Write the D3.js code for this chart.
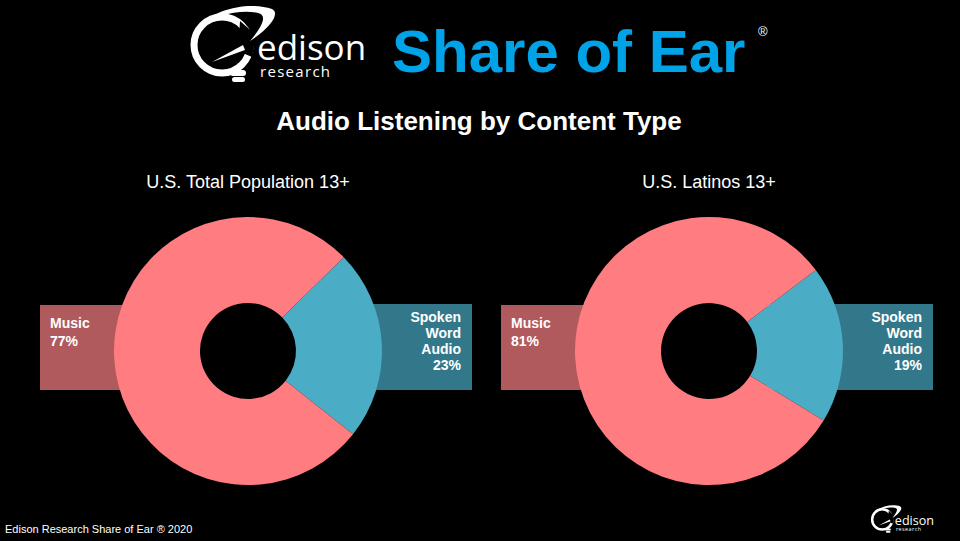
<!DOCTYPE html>
<html>
<head>
<meta charset="utf-8">
<script src="https://cdn.jsdelivr.net/npm/d3@7"></script>
<style>
  html, body { margin: 0; padding: 0; background: #000; }
  svg { display: block; }
</style>
</head>
<body>
<div id="wrapper"></div>
<script>
// 1. Data
const panels = ["U.S. Total Population 13+", "U.S. Latinos 13+"]
const categories = ["Spoken Word Audio", "Music"]
const spokenShare = [23, 19]
const musicShare = [77, 81]

const pieColors = { "Music": "#ff7c80", "Spoken Word Audio": "#4bacc6" }
const boxColors = { "Music": "#b05a5d", "Spoken Word Audio": "#33788a" }

// 2. Dimensions
const width = 960
const height = 541
const innerRadius = 48
const outerRadius = 134
const centerY = 351

// 3. Canvas
const svg = d3.select("#wrapper")
  .append("svg")
  .attr("width", width)
  .attr("height", height)
  .style("background-color", "#000")

const font = "'Liberation Sans', Arial, sans-serif"

// header logo
function drawLogo(g) {
  g.append("circle")
    .attr("cx", 34).attr("cy", 40).attr("r", 28)
    .attr("fill", "none").attr("stroke", "#fff").attr("stroke-width", 7)
  // gap on the right where the orbit passes
  g.append("path")
    .attr("d", "M52,16 L68,30 L64,52 L50,46 Z")
    .attr("fill", "#000")
  // orbit swoosh
  g.append("path")
    .attr("d", "M12,22 C24,4 62,-4 84,4 C92,8 84,22 62,36 C74,22 80,10 70,8 C52,4 28,10 12,22 Z")
    .attr("fill", "#fff")
  // e stroke
  g.append("path")
    .attr("d", "M24,57 L55,40 L57,45 Z")
    .attr("fill", "#fff")
  // bulb base
  g.append("rect").attr("x", 42).attr("y", 65).attr("width", 16).attr("height", 6)
    .attr("rx", 3).attr("fill", "#fff")
  g.append("rect").attr("x", 44).attr("y", 72).attr("width", 13).attr("height", 5)
    .attr("rx", 2.5).attr("fill", "#fff")
  g.append("text")
    .attr("x", 69).attr("y", 55)
    .attr("fill", "#fff")
    .style("font-family", "'Open Sans', sans-serif")
    .style("font-size", "35px")
    .text("edison")
  g.append("text")
    .attr("x", 72).attr("y", 72)
    .attr("fill", "#fff")
    .style("font-family", "'Open Sans', sans-serif")
    .style("font-size", "15px")
    .style("letter-spacing", "1.3px")
    .text("research")
}

drawLogo(svg.append("g").attr("transform", "translate(188,5)"))
drawLogo(svg.append("g").attr("transform", "translate(870,505) scale(0.36)"))

svg.append("text")
  .attr("x", 392).attr("y", 72)
  .attr("fill", "#00a3e8")
  .style("font-family", font)
  .style("font-weight", "bold")
  .style("font-size", "60px")
  .text("Share of Ear")

svg.append("text")
  .attr("x", 758).attr("y", 36)
  .attr("fill", "#fff")
  .style("font-family", font)
  .style("font-size", "13px")
  .text("®")

svg.append("text")
  .attr("x", 479).attr("y", 130)
  .attr("text-anchor", "middle")
  .attr("fill", "#fff")
  .style("font-family", font)
  .style("font-weight", "bold")
  .style("font-size", "26px")
  .text("Audio Listening by Content Type")

svg.append("text")
  .attr("x", 5).attr("y", 533)
  .attr("fill", "#fff")
  .style("font-family", font)
  .style("font-size", "11px")
  .text("Edison Research Share of Ear ® 2020")

// 4. Scales
const xScale = d3.scalePoint()
  .domain(panels)
  .range([248, 709])

const arc = d3.arc()
  .innerRadius(innerRadius)
  .outerRadius(outerRadius)

// 5. Draw data
panels.forEach((panel, i) => {
  const cx = xScale(panel)
  const values = [spokenShare[i], musicShare[i]]
  const data = categories.map((c, j) => ({ category: c, value: values[j] }))
  // spoken slice centred slightly above 3 o'clock
  const start = (87 - spokenShare[i] * 1.8) * Math.PI / 180
  const pie = d3.pie()
    .sort(null)
    .value(d => d.value)
    .startAngle(start)
    .endAngle(start + 2 * Math.PI)

  const g = svg.append("g")

  svg.append("text")
    .attr("x", cx).attr("y", 188)
    .attr("text-anchor", "middle")
    .attr("fill", "#fff")
    .style("font-family", font)
    .style("font-size", "18px")
    .text(panel)

  // label boxes (behind the donut)
  g.append("rect")
    .attr("x", cx - 208).attr("y", 305)
    .attr("width", 208 - innerRadius - 10).attr("height", 85)
    .attr("fill", boxColors["Music"])
  g.append("rect")
    .attr("x", cx + innerRadius + 10).attr("y", 304)
    .attr("width", 224 - innerRadius - 10).attr("height", 86)
    .attr("fill", boxColors["Spoken Word Audio"])

  g.append("g")
    .attr("transform", `translate(${cx},${centerY})`)
    .selectAll("path")
    .data(pie(data))
    .join("path")
    .attr("d", arc)
    .attr("fill", d => pieColors[d.data.category])

  const labelStyle = sel => sel
    .attr("fill", "#fff")
    .style("font-family", font)
    .style("font-weight", "bold")
    .style("font-size", "14px")

  const musicText = g.append("text")
    .attr("x", cx - 198).attr("y", 328)
    .call(labelStyle)
  musicText.append("tspan").attr("x", cx - 198).attr("dy", 0).text("Music")
  musicText.append("tspan").attr("x", cx - 198).attr("dy", 18).text(musicShare[i] + "%")

  const spokenText = g.append("text")
    .attr("x", cx + 213).attr("y", 322)
    .attr("text-anchor", "end")
    .call(labelStyle)
  const spokenLines = ["Spoken", "Word", "Audio", spokenShare[i] + "%"]
  spokenLines.forEach((line, k) => {
    spokenText.append("tspan")
      .attr("x", cx + 213)
      .attr("dy", k === 0 ? 0 : 16)
      .text(line)
  })
})
</script>
</body>
</html>
